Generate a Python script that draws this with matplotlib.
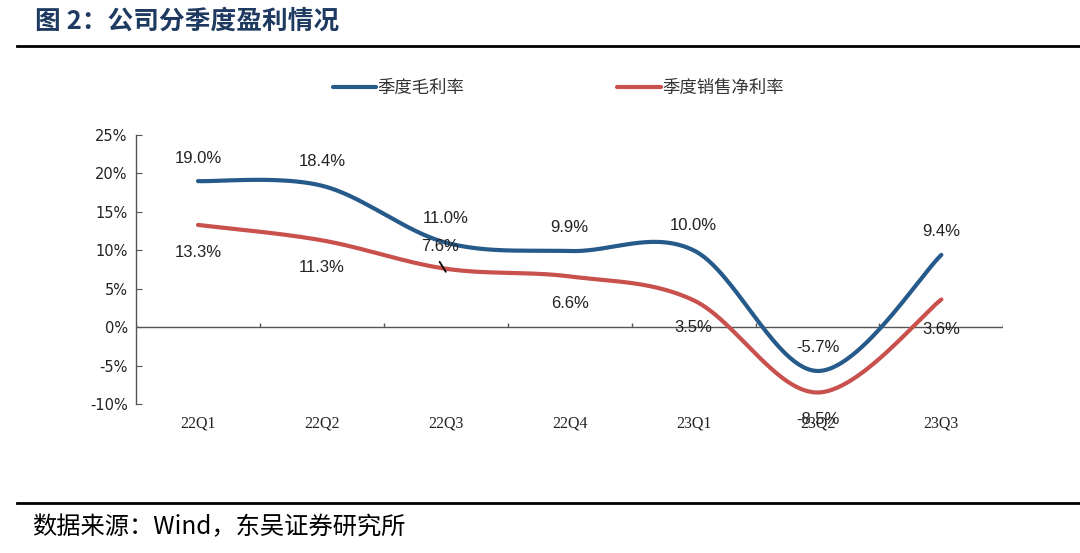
import matplotlib
matplotlib.use("Agg")
import matplotlib.pyplot as plt
from matplotlib.lines import Line2D
import numpy as np

plt.rcParams['font.family'] = ['Noto Sans CJK SC', 'DejaVu Sans']

# 数据
quarters = ["22Q1", "22Q2", "22Q3", "22Q4", "23Q1", "23Q2", "23Q3"]
gross_margin = [19.0, 18.4, 11.0, 9.9, 10.0, -5.7, 9.4]
net_margin = [13.3, 11.3, 7.6, 6.6, 3.5, -8.5, 3.6]
gross_name = "季度毛利率"
net_name = "季度销售净利率"

blue = "#255A8A"
red = "#C8504D"


# Excel 风格的平滑曲线 (三次贝塞尔)
def smooth(xs, ys, n=60):
    pts = np.column_stack([xs, ys]).astype(float)
    ext = np.vstack([pts[0], pts, pts[-1]])
    out = []
    for i in range(len(pts) - 1):
        p0, p1, p2, p3 = ext[i], ext[i + 1], ext[i + 2], ext[i + 3]
        c1 = p1 + (p2 - p0) / 6
        c2 = p2 - (p3 - p1) / 6
        t = np.linspace(0, 1, n)[:, None]
        seg = ((1 - t) ** 3) * p1 + 3 * ((1 - t) ** 2) * t * c1 + 3 * (1 - t) * t ** 2 * c2 + t ** 3 * p2
        out.append(seg if i == 0 else seg[1:])
    seg = np.vstack(out)
    return seg[:, 0], seg[:, 1]


fig = plt.figure(figsize=(10.8, 5.53), dpi=100)
ax = fig.add_axes([0.126, 0.2694, 0.803, 0.4865])

x = np.arange(len(quarters))
gx, gy = smooth(x, gross_margin)
nx, ny = smooth(x, net_margin)
ax.plot(gx, gy, color=blue, lw=3.0, solid_capstyle="round", zorder=3)
ax.plot(nx, ny, color=red, lw=3.0, solid_capstyle="round", zorder=3)

ax.set_xlim(-0.5, len(quarters) - 0.5)
ax.set_ylim(-10, 25)
ax.set_yticks(np.arange(-10, 26, 5))
ax.set_yticklabels([f"{v}%" for v in range(-10, 26, 5)], fontsize=10.5,
                   family="DejaVu Sans", color="#222222")
ax.tick_params(axis="y", direction="in", length=4, color="#555555", pad=6)
ax.set_xticks(x)
ax.set_xticklabels(quarters, family="Liberation Serif", fontsize=11.5, color="#222222")
ax.tick_params(axis="x", length=0, pad=8)

for s in ["top", "right", "bottom"]:
    ax.spines[s].set_visible(False)
ax.spines["left"].set_color("#555555")
ax.spines["left"].set_linewidth(1.0)

# 零轴及分类刻度
ax.axhline(0, color="#555555", lw=1.0, zorder=2)
ax.vlines(np.arange(-0.5, len(quarters)), 0, 0.5, color="#555555", lw=1.0, zorder=2)

# 数据标签
lab = dict(family="Liberation Sans", fontsize=12, color="#222222", ha="center",
           va="center", zorder=4)
g_pos = [(0, 22.0), (1, 21.5), (2, 14.1), (3, 13.0), (4, 13.2), (5, -2.6), (6, 12.5)]
n_pos = [(0, 9.7), (1, 7.7), (1.95, 10.5), (3, 3.1), (4, 0.0), (5, -12.0), (6, -0.3)]
for (px, py), v in zip(g_pos, gross_margin):
    ax.text(px, py, f"{v:.1f}%", **lab)
for (px, py), v in zip(n_pos, net_margin):
    ax.text(px, py, f"{v:.1f}%", **lab)
ax.annotate("", xy=(2.0, net_margin[2] - 0.4), xytext=(1.95, 8.5),
            arrowprops=dict(arrowstyle="-", color="black", lw=1.3,
                            shrinkA=0, shrinkB=0))

# 图例
handles = [Line2D([], [], color=blue, lw=3.0, solid_capstyle="round"),
           Line2D([], [], color=red, lw=3.0, solid_capstyle="round")]
fig.legend(handles, [gross_name, net_name], loc="center", bbox_to_anchor=(0.517, 0.841),
           ncol=2, frameon=False, fontsize=12.5, handlelength=2.5, handletextpad=0.1,
           columnspacing=8.8, labelcolor="#333333")

# 标题与来源
fig.text(0.032, 0.962, "图 2：公司分季度盈利情况", fontsize=18.5, fontweight="bold",
         color="#1F3A60", va="center", ha="left")
fig.add_artist(Line2D([0.016, 1.0], [1 - 46 / 553] * 2, color="black", lw=2.0))
fig.add_artist(Line2D([0.016, 1.0], [1 - 503 / 553] * 2, color="black", lw=2.0))
fig.text(0.030, 1 - 527 / 553, "数据来源：Wind，东吴证券研究所", fontsize=17.5,
         color="black", va="center", ha="left")

fig.savefig("out.png", dpi=100)
